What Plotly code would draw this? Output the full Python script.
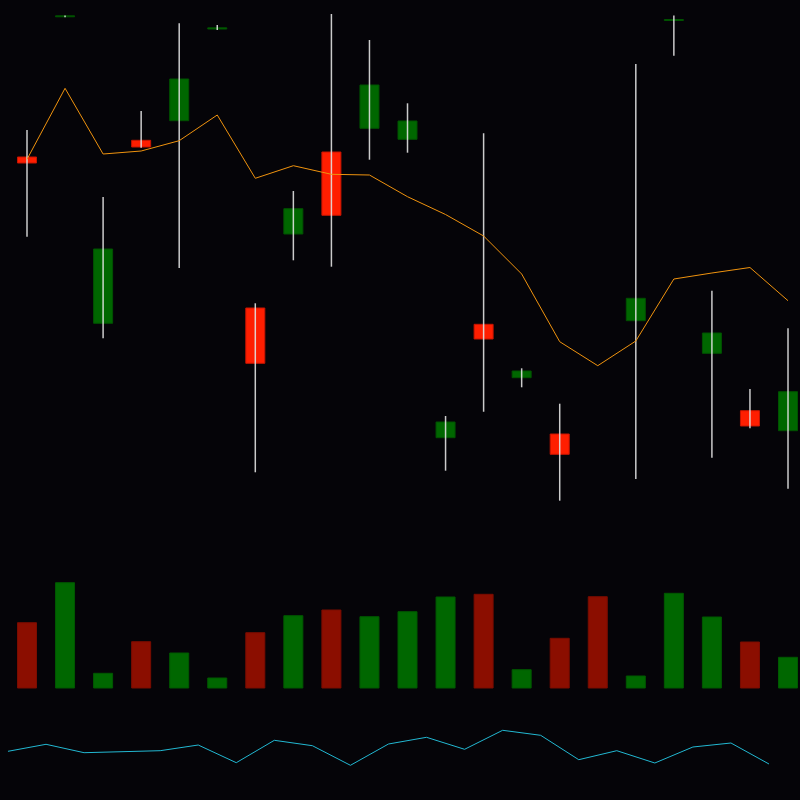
import numpy as np
import plotly.graph_objects as go

idx = list(range(21))
opens  = [84.3, 98.32, 67.67, 85.97, 87.93, 97.10, 69.20, 76.60, 84.80, 87.17, 86.07,
          56.23, 67.57, 62.23, 56.60, 46.00, 67.93, 97.95, 64.67, 58.93, 56.93]
highs  = [87.0, 98.45, 80.30, 88.90, 97.67, 97.50, 69.67, 80.90, 98.60, 96.00, 89.67,
          58.40, 86.67, 63.17, 59.63, 46.80, 93.60, 98.45, 70.93, 61.10, 67.17]
lows   = [76.33, 98.28, 66.17, 85.23, 73.20, 97.00, 52.77, 73.97, 73.33, 84.03, 84.73,
          52.93, 58.83, 61.27, 49.93, 43.00, 52.10, 94.43, 54.23, 57.17, 51.13]
closes = [83.7, 98.42, 75.10, 85.30, 92.10, 97.22, 63.67, 79.13, 78.47, 91.50, 87.90,
          57.80, 66.10, 62.90, 54.57, 44.50, 70.17, 98.05, 66.70, 57.40, 60.83]
ma     = [84.07, 91.17, 84.60, 84.90, 85.93, 88.50, 82.17, 83.43, 82.57, 82.50, 80.33,
          78.55, 76.40, 72.60, 65.83, 63.43, 65.90, 72.10, 72.70, 73.25, 69.93]
volume = [6530, 10530, 1470, 4630, 3500, 1000, 5530, 7230, 7800, 7130, 7630,
          9100, 9370, 1830, 4970, 9130, 1200, 9470, 7100, 4600, 3070]
osc    = [24.35, 27.85, 23.65, 24.25, 24.65, 27.5, 18.65, 29.85, 27.15, 17.35, 28.0,
          31.35, 25.35, 34.85, 32.35, 20.15, 24.65, 18.5, 26.5, 28.5, 18.0]

BG = "#050408"
UP, DOWN = "#006700", "#ff1e00"
VUP, VDOWN = "#006700", "#8b0e00"

up = [c >= o for o, c in zip(opens, closes)]

# wicks
wx, wy = [], []
for i, h, l in zip(idx, highs, lows):
    wx += [i, i, None]
    wy += [l, h, None]

fig = go.Figure()
fig.add_trace(go.Scatter(x=wx, y=wy, mode="lines",
                         line=dict(color="rgba(225,225,225,0.9)", width=1.5),
                         hoverinfo="skip", xaxis="x", yaxis="y"))
fig.add_trace(go.Bar(x=idx, base=[min(o, c) for o, c in zip(opens, closes)],
                     y=[max(abs(c - o), 0.1) for o, c in zip(opens, closes)],
                     width=0.5,
                     marker=dict(color=[UP if u else DOWN for u in up],
                                 line=dict(color=["#005200" if u else "#c81400" for u in up], width=1)),
                     xaxis="x", yaxis="y"))
fig.add_trace(go.Scatter(x=idx, y=ma, mode="lines",
                         line=dict(color="#f0930e", width=1), xaxis="x", yaxis="y"))
fig.add_trace(go.Bar(x=idx, y=volume, width=0.5,
                     marker=dict(color=[VUP if u else VDOWN for u in up],
                                 line=dict(color=["#005800" if u else "#7a0c00" for u in up], width=1)),
                     xaxis="x", yaxis="y2"))
fig.add_trace(go.Scatter(x=np.arange(21) - 0.5, y=osc, mode="lines",
                         line=dict(color="#22b8d2", width=1), xaxis="x", yaxis="y3"))

hidden = dict(visible=False, showgrid=False, zeroline=False, fixedrange=True)
fig.update_layout(
    width=800, height=800, margin=dict(l=0, r=0, t=0, b=0),
    paper_bgcolor=BG, plot_bgcolor=BG, showlegend=False, barmode="overlay",
    xaxis=dict(range=[-0.7096, 20.315], anchor="y", **hidden),
    yaxis=dict(domain=[0.35, 1.0], range=[48, 100], **hidden),
    yaxis2=dict(domain=[0.125, 0.3], range=[-1200, 12800], **hidden),
    yaxis3=dict(domain=[0.0, 0.125], range=[0, 50], **hidden),
)
fig.write_html("out.html")
